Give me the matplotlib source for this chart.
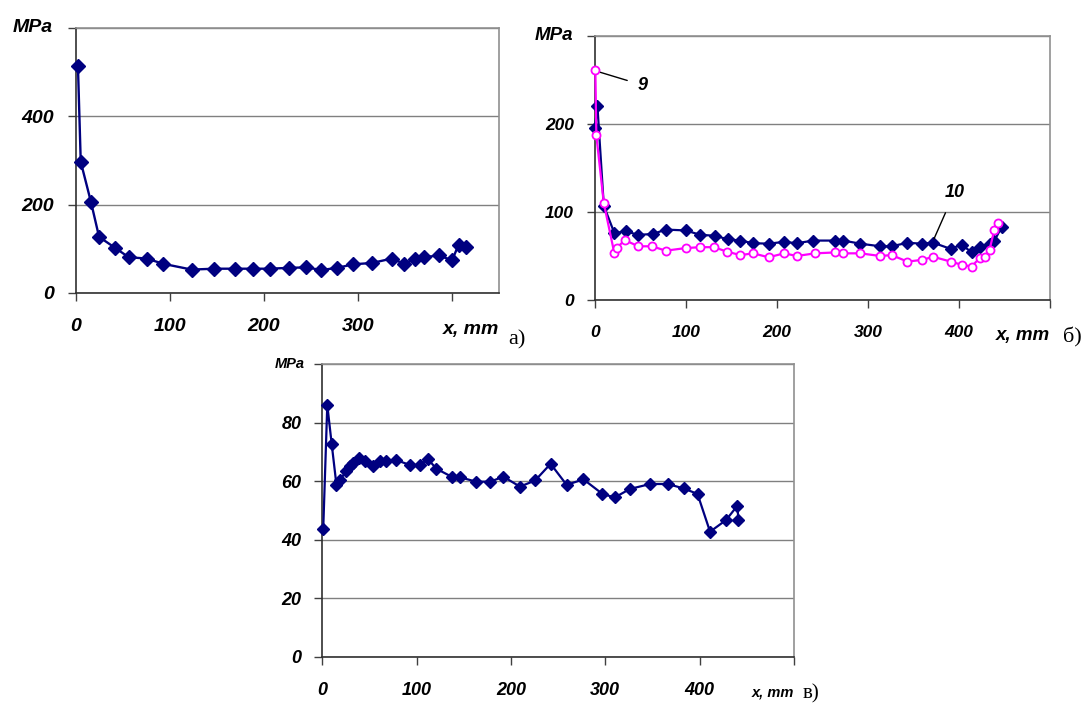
import matplotlib.pyplot as plt

plt.rcParams['font.family'] = ['Liberation Sans', 'DejaVu Sans']

# panel a
xa = [2, 5, 16, 24.5, 41, 56, 75, 93, 123, 147, 169, 188, 206, 227, 245, 261,
      278, 295, 315, 336, 349, 361, 370, 386, 400, 407, 415]
ya = [515, 297, 205, 127, 103, 81, 78, 66, 53, 55, 55, 55, 55, 57, 58, 52,
      57, 65, 68, 78, 66, 78, 81, 85, 74, 109, 105]

# panel b, curve 10 (navy) and curve 9 (magenta)
xb10 = [0, 3, 10, 21.6, 34, 48, 64, 78, 100, 116, 132, 146, 160, 174, 191, 208,
        222, 240, 264, 273, 291.5, 313.5, 326, 343.5, 359, 372, 391, 403, 414,
        423, 434, 439, 447]
yb10 = [195, 220, 107, 76, 78, 74, 75, 80, 79, 74, 73, 69, 67.5, 64.5, 64, 66,
        64.5, 67.5, 67.5, 67.5, 64, 61, 61, 65, 64, 65, 58, 63, 54, 60, 64,
        67.5, 83]
xb9 = [0.7, 1.8, 10, 21.6, 24, 33, 48, 63, 78, 100, 116, 131, 145, 160, 174,
       191, 208, 222, 242, 264, 273, 291.5, 313.5, 326, 343.5, 359, 372, 391,
       403, 414, 423, 429, 433.6, 439, 442.5]
yb9 = [261, 187, 110, 53, 59, 68, 61, 61, 56, 59, 60, 60, 55, 51, 53, 48.5, 53,
       50, 53, 54, 53, 53, 50, 51, 43.6, 45.5, 49, 43.6, 40, 38, 48, 48.5, 57,
       80, 87]

# panel c
xc = [1, 5.3, 10, 15, 19, 25, 29, 33, 39, 45, 54, 61, 68, 78, 93, 103.5, 112,
      121, 137, 146, 163, 178, 192, 209.5, 225.6, 242, 259, 276.8, 297, 310,
      326, 347.5, 366, 383, 397.7, 411, 428, 440, 441]
yc = [43.6, 86, 72.6, 58.7, 60.2, 63.5, 65, 66.3, 67.8, 67, 65.2, 67, 66.7,
      67.2, 65.5, 65.5, 67.5, 64.2, 61.5, 61.3, 59.8, 59.8, 61.5, 58.1, 60.2,
      65.9, 58.7, 60.6, 55.6, 54.4, 57.3, 59, 59, 57.5, 55.6, 42.7, 46.7, 51.6,
      46.7]

NAVY = '#000080'
PINK = '#FF00FF'

fig = plt.figure(figsize=(10.91, 7.05), dpi=100)


def style(ax, xmax, xlab_max, ymax, ystep, fs, small_fs, pad_x, pad_y, mpa_x):
    ax.set_xlim(0, xmax)
    ax.set_ylim(0, ymax)
    xt = list(range(0, xlab_max + 1, 100))
    ax.set_xticks(xt)
    ax.set_xticklabels([str(v) for v in xt[:-1]] + [''])
    yt = list(range(0, ymax + 1, ystep))
    ax.set_yticks(yt)
    ax.set_yticklabels([str(v) for v in yt[:-1]] + [''])
    for lab in ax.get_xticklabels() + ax.get_yticklabels():
        lab.set_fontweight('bold')
        lab.set_fontstyle('italic')
        lab.set_fontsize(fs)
    ax.tick_params(axis='x', direction='out', length=6, width=1, pad=pad_x,
                   color='#404040')
    ax.tick_params(axis='y', direction='out', length=6, width=1, pad=pad_y,
                   color='#404040')
    ax.grid(axis='y', color='#808080', lw=1)
    ax.set_axisbelow(True)
    ax.spines['top'].set_color('#909090')
    ax.spines['right'].set_color('#909090')
    ax.spines['left'].set_color('#303030')
    ax.spines['bottom'].set_color('#303030')
    for s in ax.spines.values():
        s.set_linewidth(1.2)
    # axis captions in place of the last tick labels
    ax.text(mpa_x, 1.0, 'MPa', transform=ax.transAxes, ha='right',
            va='center', fontsize=small_fs, fontweight='bold',
            fontstyle='italic')
    ax.annotate('x, mm', xy=(1.0, 0.0), xycoords='axes fraction',
                xytext=(0, -pad_x - 6 - fs * 0.6), textcoords='offset points',
                ha='right', va='center', fontsize=small_fs, fontweight='bold',
                fontstyle='italic')


# а)
ax1 = fig.add_axes([0.0697, 0.5844, 0.3877, 0.3759])
ax1.plot(xa, ya, '-D', color=NAVY, ms=7.2, lw=1.7, clip_on=False, zorder=3)
style(ax1, 450, 400, 600, 200, 14, 14, 12, 10, -0.054)
fig.text(508 / 1091, 1 - 340 / 705, 'а)', family='Liberation Serif',
         fontsize=16, ha='left', va='center')

# б)
ax2 = fig.add_axes([0.5451, 0.5745, 0.4173, 0.3745])
ax2.plot(xb10, yb10, '-D', color=NAVY, ms=5.8, lw=1.6, clip_on=False, zorder=3)
ax2.plot(xb9, yb9, '-o', color=PINK, mfc='white', mec=PINK, ms=5.8, mew=1.3,
         lw=1.6, clip_on=False, zorder=4)
style(ax2, 500, 500, 300, 100, 12.5, 13.5, 12, 9, -0.048)
ax2.annotate('9', xy=(2, 260), xytext=(53, 244), fontsize=13,
             fontweight='bold', fontstyle='italic', ha='center', va='center',
             arrowprops=dict(arrowstyle='-', color='black', lw=1,
                             shrinkA=6, shrinkB=1))
ax2.annotate('10', xy=(372, 68), xytext=(395, 122), fontsize=13,
             fontweight='bold', fontstyle='italic', ha='center', va='center',
             arrowprops=dict(arrowstyle='-', color='black', lw=1,
                             shrinkA=7, shrinkB=1))
fig.text(1063 / 1091, 1 - 337 / 705, 'б)', family='Liberation Serif',
         fontsize=16, ha='left', va='center')

# в)
ax3 = fig.add_axes([0.2954, 0.0685, 0.4324, 0.4152])
ax3.plot(xc, yc, '-D', color=NAVY, ms=5.8, lw=1.6, clip_on=False, zorder=3)
style(ax3, 500, 500, 100, 20, 13, 10.5, 12, 9, -0.037)
fig.text(803 / 1091, 1 - 694 / 705, 'в)', family='Liberation Serif',
         fontsize=15, ha='left', va='center')

fig.savefig('out.png', dpi=100)
